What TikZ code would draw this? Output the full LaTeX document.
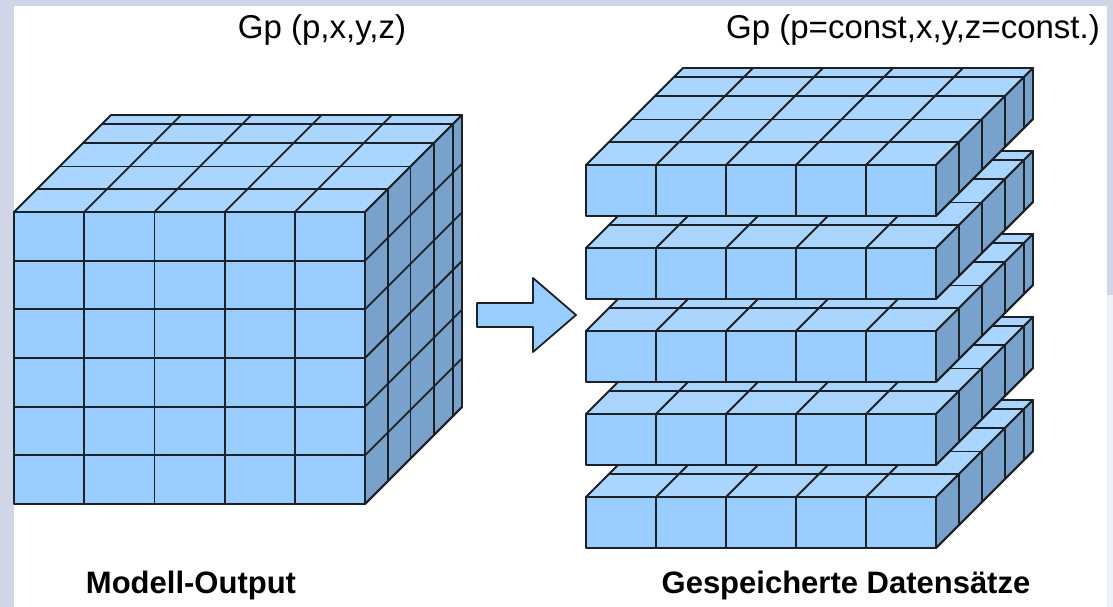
\documentclass[tikz,border=0pt]{standalone}
\usepackage{fontspec}
\setmainfont{Liberation Sans}

\definecolor{framegray}{HTML}{D0D6E8}
\definecolor{framelight}{HTML}{EEF1F7}
\definecolor{frontblue}{HTML}{99CCFF}
\definecolor{topblue}{HTML}{AAD5FF}
\definecolor{sideblue}{HTML}{78A2CC}
\definecolor{edgeblack}{HTML}{1B2127}

\tikzset{
    face/.style={draw=edgeblack, line width=1.8pt, line join=round},
    headlabel/.style={font=\fontsize{33}{39}\selectfont},
    footlabel/.style={font=\bfseries\fontsize{31}{37}\selectfont},
}

\newcommand{\blockdepth}{97}

% block of 5 cells across: #1,#2 = front top-left, #3 = width, #4 = height, #5 = rows
\newcommand{\gridblock}[5]{%
    % front face
    \filldraw[face, fill=frontblue] (#1,#2) rectangle (#1+#3,#2+#4);
    \foreach \i in {1,...,4}
        \draw[face] (#1+\i*#3/5,#2) -- ++(0,#4);
    \foreach \j in {1,...,#5}
        \draw[face] (#1,#2+\j*#4/#5) -- ++(#3,0);
    % top face
    \filldraw[face, fill=topblue] (#1,#2) -- ++(#3,0) -- ++(\blockdepth,-\blockdepth) -- ++(-#3,0) -- cycle;
    \foreach \f in {0.24,0.47,0.71,0.91}
        \draw[face] (#1+\f*\blockdepth,#2-\f*\blockdepth) -- ++(#3,0);
    \foreach \i in {1,...,4}
        \draw[face] (#1+\i*#3/5,#2) -- ++(\blockdepth,-\blockdepth);
    % side face
    \filldraw[face, fill=sideblue] (#1+#3,#2) -- ++(0,#4) -- ++(\blockdepth,-\blockdepth) -- ++(0,-#4) -- cycle;
    \foreach \f in {0.24,0.47,0.71,0.91}
        \draw[face] (#1+#3+\f*\blockdepth,#2-\f*\blockdepth) -- ++(0,#4);
    \foreach \j in {1,...,#5}
        \draw[face] (#1+#3,#2+\j*#4/#5) -- ++(\blockdepth,-\blockdepth);
}

\begin{document}
\begin{tikzpicture}[x=1pt, y=-1pt]
    \useasboundingbox (0,0) rectangle (1113,607);

    % 1. Frame
    \fill[framegray] (0,0) rectangle (1113,607);
    \fill[framelight] (1107,295) rectangle (1113,607);
    \fill[white] (14,6) rectangle (1107,607);

    % 2. Model output cube
    \gridblock{14}{212}{351}{292}{6}

    % 3. Stored slices, lowest first
    \foreach \s in {4,3,2,1,0} {
        \gridblock{586}{165+\s*83}{350}{51}{1}
    }

    % 4. Block arrow
    \filldraw[face, fill=frontblue] (477,303) -- (533,303) -- (533,278) -- (576,315)
        -- (533,352) -- (533,327) -- (477,327) -- cycle;

    % 5. Labels
    \node[headlabel] (cubehead) at (322,30) {Gp (p,x,y,z)};
    \node[headlabel] (slicehead) at (913,30) {Gp (p=const,x,y,z=const.)};
    \node[footlabel] (cubefoot) at (191,585) {Modell-Output};
    \node[footlabel] (slicefoot) at (846,585) {Gespeicherte Datensätze};

\end{tikzpicture}
\end{document}
